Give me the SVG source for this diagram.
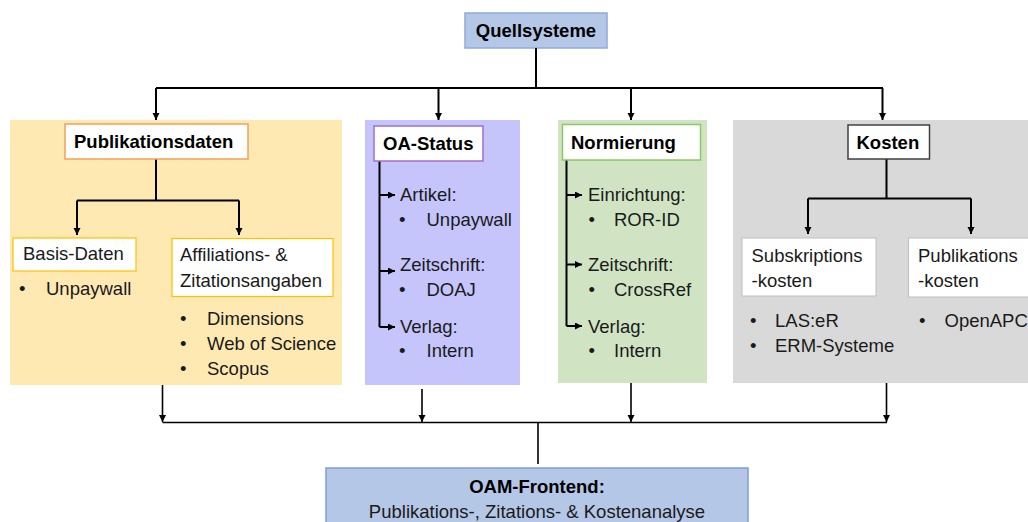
<svg xmlns="http://www.w3.org/2000/svg" width="1028" height="522" viewBox="0 0 1028 522">
<defs>
<marker id="ah" markerUnits="userSpaceOnUse" markerWidth="8" markerHeight="8" refX="7" refY="3.5" orient="auto">
<path d="M0,0 L7,3.5 L0,7 z" fill="#000"/>
</marker>
<style>
text{font-family:"Liberation Sans",Arial,sans-serif;font-size:18.5px;fill:#1a1a1a}
.b{font-weight:bold;fill:#000}
.c{text-anchor:middle}
.ln{stroke:#000;stroke-width:2;fill:none}
.ln2{stroke:#000;stroke-width:1.6;fill:none}
.ar{marker-end:url(#ah)}
</style>
</defs>
<rect width="1028" height="522" fill="#fff"/>

<g id="quellsysteme">
<rect x="465" y="13" width="142" height="35" fill="#b4c7e7" stroke="#8faadc" stroke-width="1.5"/>
<text class="b c" x="536" y="37">Quellsysteme</text>
</g>

<g id="panel-publikationsdaten">
<rect x="10" y="120" width="332" height="265" fill="#ffe9b3"/>
</g>
<g id="panel-oa-status">
<rect x="365" y="120" width="155" height="265" fill="#c5c5fb"/>
</g>
<g id="panel-normierung">
<rect x="558" y="120" width="149" height="263" fill="#d0e4c4"/>
</g>
<g id="panel-kosten">
<rect x="733" y="120" width="300" height="263" fill="#d9d9d9"/>
</g>

<g id="connectors">
<path class="ln" d="M536,48 V88"/>
<path class="ln" d="M156,88 H883"/>
<path class="ln ar" d="M156,88 V120"/>
<path class="ln ar" d="M438.5,88 V120"/>
<path class="ln ar" d="M631,88 V120"/>
<path class="ln ar" d="M882.5,88 V120"/>

<path class="ln" d="M156,159 V200.5 M77,200.5 H239"/>
<path class="ln ar" d="M77,200.5 V235"/>
<path class="ln ar" d="M239,200.5 V235"/>

<path class="ln" d="M379.5,161 V327"/>
<path class="ln ar" d="M379.5,195 H395"/>
<path class="ln ar" d="M379.5,271 H395"/>
<path class="ln ar" d="M379.5,327 H395"/>

<path class="ln" d="M566.5,160 V326"/>
<path class="ln ar" d="M566.5,195 H582"/>
<path class="ln ar" d="M566.5,264.5 H582"/>
<path class="ln ar" d="M566.5,326 H582"/>

<path class="ln" d="M886.5,159 V198.5 M808,198.5 H971"/>
<path class="ln ar" d="M808,198.5 V234"/>
<path class="ln ar" d="M971,198.5 V234"/>

<path class="ln2 ar" d="M162.5,385 V422"/>
<path class="ln2 ar" d="M422,389 V422"/>
<path class="ln2 ar" d="M631,383 V422"/>
<path class="ln2 ar" d="M886.5,383 V422"/>
<path class="ln2" d="M162.5,422.5 H887"/>
<path class="ln2" d="M538,422.5 V464"/>
</g>

<g id="publikationsdaten">
<rect x="65" y="124" width="183" height="35" fill="#fff" stroke="#f4a05a" stroke-width="1.5"/>
<text class="b" x="74" y="148">Publikationsdaten</text>
</g>
<g id="basis-daten">
<rect x="13" y="238" width="123" height="33" fill="#fff" stroke="#ffc000" stroke-width="1.2"/>
<text x="23" y="260">Basis-Daten</text>
<text x="19" y="295">•</text>
<text x="46" y="295">Unpaywall</text>
</g>
<g id="affiliations">
<rect x="172" y="238.5" width="161" height="58" fill="#fff" stroke="#ffc000" stroke-width="1.2"/>
<text x="180" y="261">Affiliations- &amp;</text>
<text x="180" y="286.5">Zitationsangaben</text>
<text x="180" y="324.5">•</text>
<text x="207" y="324.5">Dimensions</text>
<text x="180" y="349.5">•</text>
<text x="207" y="349.5">Web of Science</text>
<text x="180" y="374.5">•</text>
<text x="207" y="374.5">Scopus</text>
</g>

<g id="oa-status">
<rect x="374" y="126" width="109" height="35" fill="#fff" stroke="#a070c8" stroke-width="1.5"/>
<text class="b" x="383" y="150">OA-Status</text>
<text x="400" y="201">Artikel:</text>
<text x="399" y="225.5">•</text>
<text x="426.5" y="225.5">Unpaywall</text>
<text x="400" y="271">Zeitschrift:</text>
<text x="399" y="296">•</text>
<text x="426.5" y="296">DOAJ</text>
<text x="400" y="333">Verlag:</text>
<text x="399" y="357">•</text>
<text x="426.5" y="357">Intern</text>
</g>

<g id="normierung">
<rect x="562.5" y="124.5" width="138" height="35.5" fill="#fff" stroke="#8cc864" stroke-width="1.5"/>
<text class="b" x="571" y="149">Normierung</text>
<text x="588" y="201">Einrichtung:</text>
<text x="588.5" y="226">•</text>
<text x="614" y="226">ROR-ID</text>
<text x="588" y="271">Zeitschrift:</text>
<text x="588.5" y="296">•</text>
<text x="614" y="296">CrossRef</text>
<text x="588" y="333">Verlag:</text>
<text x="588.5" y="357">•</text>
<text x="614" y="357">Intern</text>
</g>

<g id="kosten">
<rect x="848" y="125" width="81.5" height="34" fill="#fff" stroke="#404040" stroke-width="1.5"/>
<text class="b" x="856.5" y="149">Kosten</text>
</g>
<g id="subskriptionskosten">
<rect x="742" y="238" width="134" height="58" fill="#fff" stroke="#bfbfbf" stroke-width="1"/>
<text x="751.5" y="262">Subskriptions</text>
<text x="751.5" y="287">-kosten</text>
<text x="750" y="327">•</text>
<text x="775" y="327">LAS:eR</text>
<text x="750" y="352">•</text>
<text x="775" y="352">ERM-Systeme</text>
</g>
<g id="publikationskosten">
<rect x="908.5" y="238" width="125" height="59" fill="#fff" stroke="#bfbfbf" stroke-width="1"/>
<text x="918" y="262">Publikations</text>
<text x="918" y="287">-kosten</text>
<text x="919" y="327">•</text>
<text x="944.5" y="327">OpenAPC</text>
</g>

<g id="oam-frontend">
<rect x="326" y="468" width="422" height="60" fill="#b4c7e7" stroke="#7f9fd6" stroke-width="1.5"/>
<text class="b c" x="537" y="493">OAM-Frontend:</text>
<text class="c" x="537" y="518">Publikations-, Zitations- &amp; Kostenanalyse</text>
</g>
</svg>
